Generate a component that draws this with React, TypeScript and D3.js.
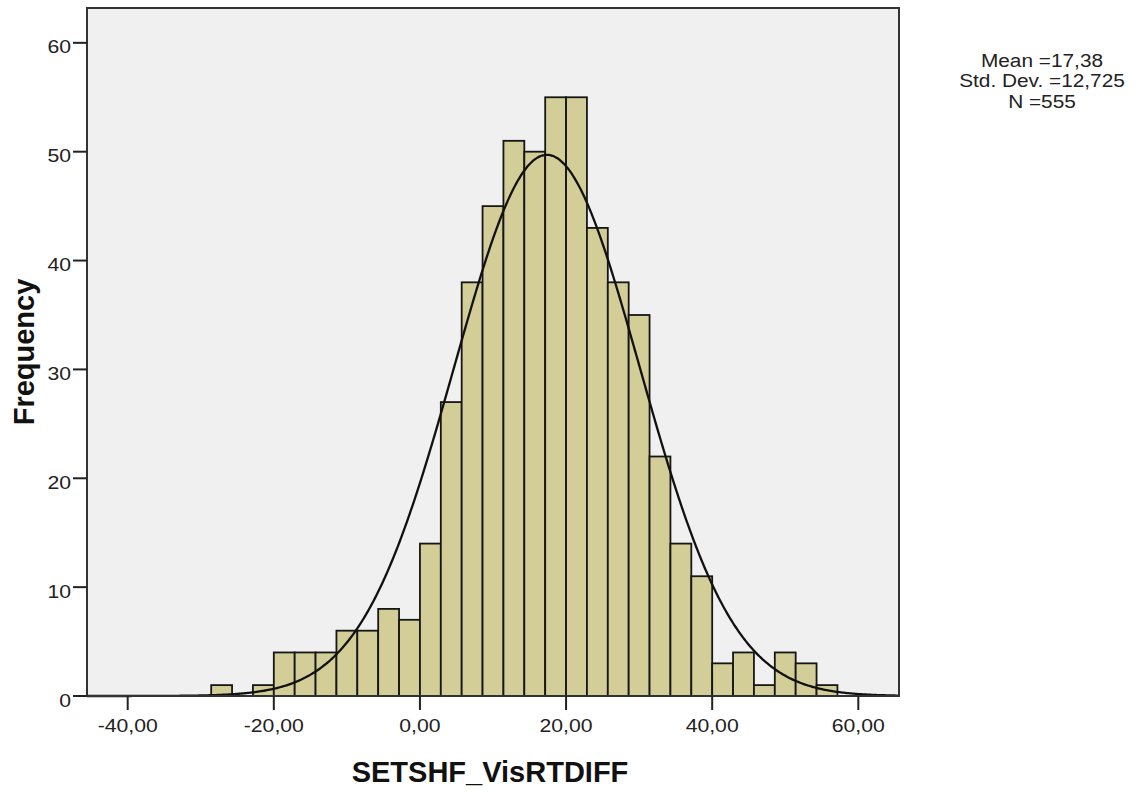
import React from "react";
import * as d3 from "d3";

// Histogram of SETSHF_VisRTDIFF with fitted normal curve
const binWidth = 20 / 7;
const firstBinIndex = -10; // first bin starts at -10 * binWidth
const binCounts = [
  1, 0, 1, 4, 4, 4, 6, 6, 8, 7, 14, 27, 38, 45, 51, 50, 55, 55, 43, 38, 35, 22, 14, 11, 3, 4, 1, 4, 3, 1,
];
const xTicks = [-40, -20, 0, 20, 40, 60];
const yTicks = [0, 10, 20, 30, 40, 50, 60];
const meanValue = 17.38;
const stdDev = 12.725;
const sampleSize = 555;
const statLines = ["Mean =17,38", "Std. Dev. =12,725", "N =555"];
const xTitle = "SETSHF_VisRTDIFF";
const yTitle = "Frequency";

const W = 1139;
const H = 794;
const plot = { left: 87, right: 899, top: 8, bottom: 696 };
const xDomain: [number, number] = [-45.57, 65.57];
const yDomain: [number, number] = [0, 63.2];

const FONT = "'Liberation Sans', Arial, sans-serif";
const SX = 1.14; // horizontal stretch of the small labels

const fmt = (v: number) => d3.format(".2f")(v).replace(".", ",").replace("−", "-");

export default function App() {
  const x = d3.scaleLinear().domain(xDomain).range([plot.left, plot.right]);
  const y = d3.scaleLinear().domain(yDomain).range([plot.bottom, plot.top]);

  const bins = binCounts.map((c, i) => {
    const x0 = (firstBinIndex + i) * binWidth;
    return { x0, x1: x0 + binWidth, count: c };
  });

  const density = (v: number) =>
    (sampleSize * binWidth) / (stdDev * Math.sqrt(2 * Math.PI)) *
    Math.exp(-0.5 * ((v - meanValue) / stdDev) ** 2);
  const curvePts = d3.range(xDomain[0], xDomain[1] + 0.001, 0.2).map((v) => [v, density(v)] as [number, number]);
  const line = d3
    .line<[number, number]>()
    .x((d) => x(d[0]))
    .y((d) => y(d[1]))
    .curve(d3.curveBasis);

  return (
    <svg width={W} height={H} style={{ position: "absolute", left: 0, top: 0, background: "#fff" }}>
      <rect
        x={plot.left}
        y={plot.top}
        width={plot.right - plot.left}
        height={plot.bottom - plot.top}
        fill="#f0f0f0"
      />
      {bins
        .filter((b) => b.count > 0)
        .map((b, i) => (
          <rect
            key={i}
            x={x(b.x0)}
            y={y(b.count)}
            width={x(b.x1) - x(b.x0)}
            height={y(0) - y(b.count)}
            fill="#d3ce97"
            stroke="#161616"
            strokeWidth={1.8}
          />
        ))}
      <path d={line(curvePts) || ""} fill="none" stroke="#111" strokeWidth={2.3} />
      <rect
        x={plot.left}
        y={plot.top}
        width={plot.right - plot.left}
        height={plot.bottom - plot.top}
        fill="none"
        stroke="#333"
        strokeWidth={2}
      />
      {/* y axis */}
      {yTicks.map((t) => (
        <g key={"y" + t}>
          <line x1={73} x2={plot.left} y1={y(t)} y2={y(t)} stroke="#222" strokeWidth={2} />
          <text
            transform={`translate(71,${y(t) + 10.5}) scale(${SX},1)`}
            textAnchor="end"
            fontFamily={FONT}
            fontSize={18.6}
            fill="#222"
          >
            {t}
          </text>
        </g>
      ))}
      {/* x axis */}
      {xTicks.map((t) => (
        <g key={"x" + t}>
          <line x1={x(t)} x2={x(t)} y1={plot.bottom} y2={710} stroke="#222" strokeWidth={2} />
          <text
            transform={`translate(${x(t)},732) scale(${SX},1)`}
            textAnchor="middle"
            fontFamily={FONT}
            fontSize={18.6}
            fill="#222"
          >
            {fmt(t)}
          </text>
        </g>
      ))}
      <text
        x={490}
        y={782}
        textAnchor="middle"
        fontFamily={FONT}
        fontWeight="bold"
        fontSize={29}
        fill="#111"
      >
        {xTitle}
      </text>
      <text
        transform={`translate(34,352) rotate(-90)`}
        textAnchor="middle"
        fontFamily={FONT}
        fontWeight="bold"
        fontSize={29}
        fill="#111"
      >
        {yTitle}
      </text>
      {statLines.map((s, i) => (
        <text
          key={s}
          transform={`translate(1042,${66.5 + i * 20.8}) scale(1.12,1)`}
          textAnchor="middle"
          fontFamily={FONT}
          fontSize={18.6}
          fill="#222"
        >
          {s}
        </text>
      ))}
    </svg>
  );
}
